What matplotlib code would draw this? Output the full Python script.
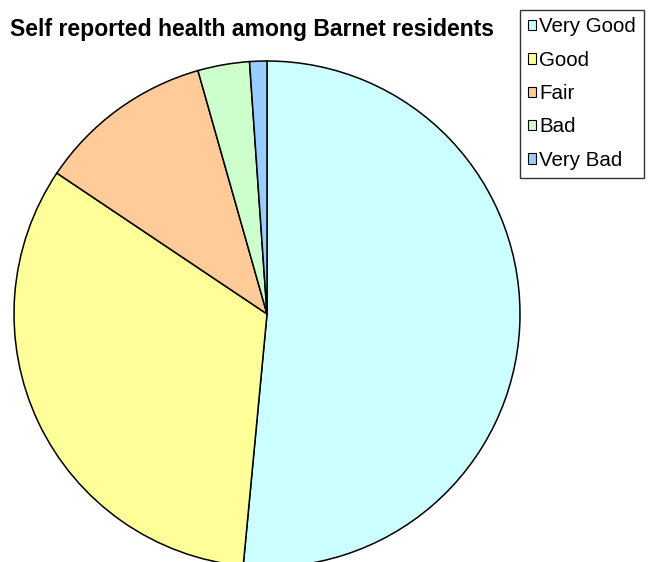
import matplotlib
matplotlib.use("Agg")
import matplotlib.pyplot as plt

plt.rcParams['font.family'] = ['Liberation Sans', 'DejaVu Sans']

# Self reported health shares (percent)
categories = ['Very Good', 'Good', 'Fair', 'Bad', 'Very Bad']
shares = [51.5, 32.9, 11.2, 3.3, 1.1]
colors = ['#CCFFFF', '#FFFF99', '#FFCC99', '#CCFFCC', '#99CCFF']

W, H = 654, 562
fig = plt.figure(figsize=(W / 100, H / 100), dpi=100)
ax = fig.add_axes([0, 0, 1, 1])

wedges, _ = ax.pie(shares, colors=colors, startangle=90, counterclock=False,
                   center=(267, H - 314), radius=253,
                   wedgeprops=dict(edgecolor='black', linewidth=1.1))
ax.set_xlim(0, W)
ax.set_ylim(0, H)
ax.set_aspect('equal')
ax.axis('off')

fig.text(494 / W, 1 - 36 / H, 'Self reported health among Barnet residents',
         ha='right', va='baseline', fontsize=16.6, fontweight='bold')

leg = fig.legend(wedges, categories, loc='upper left',
                 bbox_to_anchor=(520 / W, 1 - 9.5 / H),
                 fontsize=14.8, frameon=True, fancybox=False, shadow=False,
                 handlelength=0.4, handleheight=0.4, handletextpad=0.15,
                 labelspacing=0.7, borderpad=0.38, borderaxespad=0)
leg.get_frame().set_edgecolor('black')
leg.get_frame().set_linewidth(1.0)
for h in leg.legend_handles:
    h.set_edgecolor('black')
    h.set_linewidth(0.8)

fig.savefig('out.png', dpi=100)
